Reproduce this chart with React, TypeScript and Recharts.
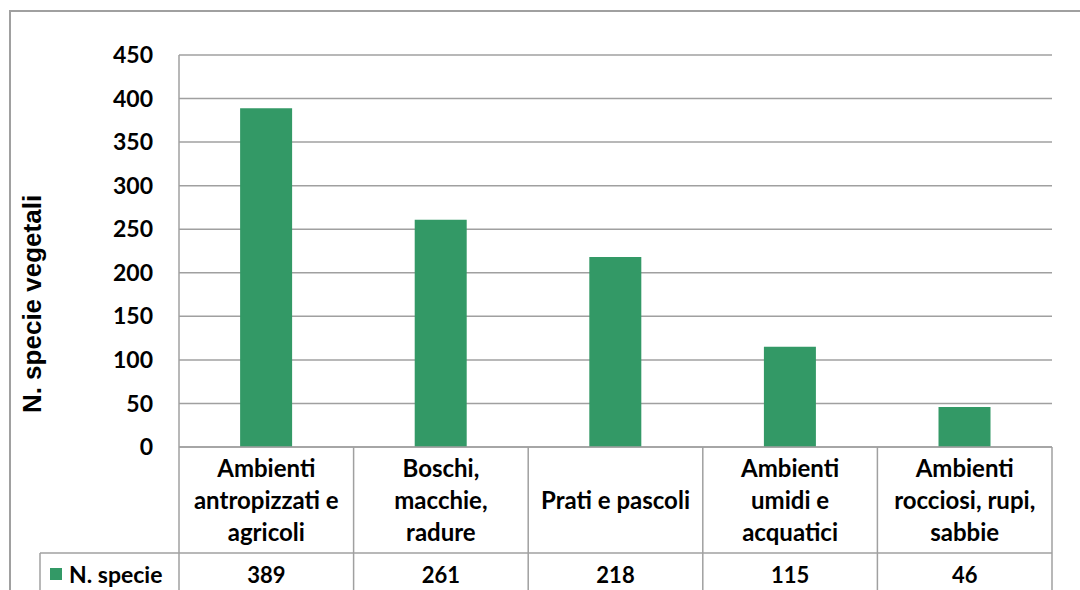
import { BarChart, Bar, CartesianGrid, XAxis, YAxis } from "recharts";

const categories = [
  "Ambienti\nantropizzati e\nagricoli",
  "Boschi,\nmacchie,\nradure",
  "Prati e pascoli",
  "Ambienti\numidi e\nacquatici",
  "Ambienti\nrocciosi, rupi,\nsabbie",
];
const speciesCount = [389, 261, 218, 115, 46];
const yTicks = [0, 50, 100, 150, 200, 250, 300, 350, 400, 450];
const seriesName = "N. specie";
const axisTitle = "N. specie vegetali";

const data = categories.map((category, i) => ({
  category,
  value: speciesCount[i],
}));

const GREEN = "#339966";
const LINE = "#a0a0a0";
const FONT = "Lato, 'Open Sans', sans-serif";
const ROW1 = 106;
const ROW2 = 40;

function TableTick(props: any) {
  const { x, y, payload, index, width, visibleTicksCount } = props;
  const bw = width && visibleTicksCount ? width / visibleTicksCount : 174.6;
  const left = x - bw / 2;
  const right = x + bw / 2;
  const lines = String(payload.value).split("\n");
  const lh = 32;
  const startY = y + ROW1 / 2 - ((lines.length - 1) * lh) / 2 - 1;
  const last = index === visibleTicksCount - 1;
  return (
    <g>
      <line x1={left} y1={y} x2={left} y2={y + ROW1 + ROW2 + 10} stroke={LINE} strokeWidth={1.5} />
      {last && (
        <line x1={right} y1={y} x2={right} y2={y + ROW1 + ROW2 + 10} stroke={LINE} strokeWidth={1.5} />
      )}
      <line x1={left} y1={y + ROW1} x2={right} y2={y + ROW1} stroke={LINE} strokeWidth={1.5} />
      {lines.map((t, i) => (
        <text
          key={i}
          x={x}
          y={startY + i * lh}
          textAnchor="middle"
          dominantBaseline="central"
          fontFamily={FONT}
          fontWeight="bold"
          fontSize={24}
          fill="#000"
        >
          {t}
        </text>
      ))}
      <text
        x={x}
        y={y + ROW1 + 21}
        textAnchor="middle"
        dominantBaseline="central"
        fontFamily={FONT}
        fontWeight="bold"
        fontSize={22}
        fill="#000"
      >
        {speciesCount[index]}
      </text>
      {index === 0 && (
        <g>
          <line x1={40} y1={y + ROW1} x2={left} y2={y + ROW1} stroke={LINE} strokeWidth={1.5} />
          <line x1={40} y1={y + ROW1} x2={40} y2={y + ROW1 + ROW2 + 10} stroke={LINE} strokeWidth={1.5} />
          <rect x={50} y={y + ROW1 + 15} width={12} height={12} fill={GREEN} />
          <text
            x={69}
            y={y + ROW1 + 21}
            dominantBaseline="central"
            fontFamily={FONT}
            fontWeight="bold"
            fontSize={23}
            fill="#000"
          >
            {seriesName}
          </text>
        </g>
      )}
    </g>
  );
}

function AxisTitle(props: any) {
  const { viewBox } = props;
  const cx = viewBox.x + 32;
  const cy = viewBox.y + (viewBox.height + ROW1) / 2;
  return (
    <text
      x={cx}
      y={cy}
      transform={`rotate(-90, ${cx}, ${cy})`}
      textAnchor="middle"
      dominantBaseline="central"
      fontFamily="'Liberation Sans', Arial, sans-serif"
      fontWeight="bold"
      fontSize={26}
      fill="#000"
    >
      {axisTitle}
    </text>
  );
}

export default function App() {
  return (
    <div style={{ position: "absolute", left: 0, top: 0, width: 1080, height: 590, background: "#fff", overflow: "hidden" }}>
      <div
        style={{
          position: "absolute",
          left: 9,
          top: 10,
          width: 1100,
          height: 600,
          borderTop: `2px solid ${LINE}`,
          borderLeft: `2px solid ${LINE}`,
        }}
      />
      <BarChart
        width={1080}
        height={590}
        data={data}
        margin={{ top: 55, right: 28, bottom: 0, left: 0 }}
        barCategoryGap="35%"
      >
        <CartesianGrid vertical={false} stroke={LINE} strokeWidth={1.5} />
        <XAxis
          dataKey="category"
          height={143}
          interval={0}
          tickLine={false}
          tickSize={0}
          tickMargin={0}
          axisLine={{ stroke: LINE, strokeWidth: 1.5 }}
          tick={<TableTick />}
        />
        <YAxis
          width={179}
          domain={[0, 450]}
          ticks={yTicks}
          interval={0}
          tickLine={false}
          tickSize={0}
          tickMargin={26}
          axisLine={{ stroke: LINE, strokeWidth: 1.5 }}
          tick={{ fontFamily: FONT, fontWeight: "bold", fontSize: 23, fill: "#000" }}
          label={<AxisTitle />}
        />
        <Bar dataKey="value" name={seriesName} fill={GREEN} isAnimationActive={false} />
      </BarChart>
    </div>
  );
}
